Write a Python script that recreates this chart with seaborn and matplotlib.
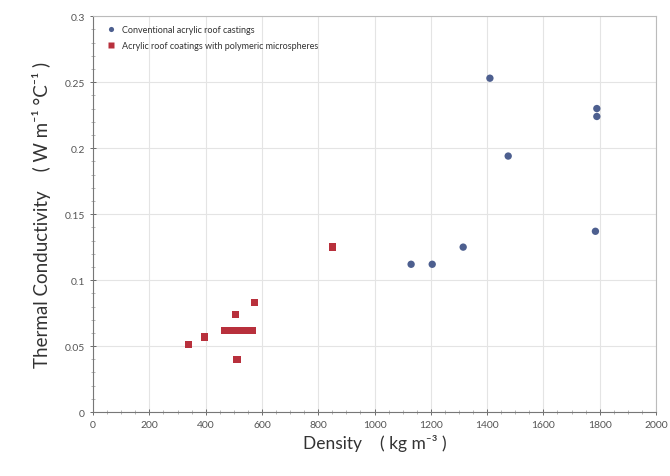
import matplotlib
matplotlib.use("Agg")
import matplotlib.pyplot as plt
from matplotlib.ticker import MultipleLocator
import seaborn as sns
import pandas as pd

conv_density = [1410, 1475, 1790, 1790, 1785, 1315, 1130, 1205]
conv_k = [0.253, 0.194, 0.230, 0.224, 0.137, 0.125, 0.112, 0.112]

micro_density = [850, 340, 396, 506, 573, 511, 467, 492, 516, 541, 566]
micro_k = [0.125, 0.051, 0.057, 0.074, 0.083, 0.040, 0.062, 0.062, 0.062, 0.062, 0.062]

series_names = ["Conventional acrylic roof castings",
                "Acrylic roof coatings with polymeric microspheres"]

df = pd.concat([
    pd.DataFrame({"Density": conv_density, "k": conv_k, "series": series_names[0]}),
    pd.DataFrame({"Density": micro_density, "k": micro_k, "series": series_names[1]}),
])

sns.set_theme(style="white")
plt.rcParams['font.family'] = ['Lato', 'DejaVu Sans']

fig = plt.figure(figsize=(6.7, 4.77), dpi=100)
ax = fig.add_axes([0.139, 0.134, 0.840, 0.830])

sns.scatterplot(data=df, x="Density", y="k", hue="series", style="series",
                palette=["#4d5f8f", "#b8303c"], markers=["o", "s"],
                s=28, edgecolor="none", ax=ax, legend=True)

ax.set_xlim(0, 2000)
ax.set_ylim(0, 0.3)
ax.xaxis.set_major_locator(MultipleLocator(200))
ax.xaxis.set_minor_locator(MultipleLocator(50))
ax.yaxis.set_major_locator(MultipleLocator(0.05))
ax.yaxis.set_minor_locator(MultipleLocator(0.01))
ax.set_xticklabels([f"{int(v)}" for v in ax.get_xticks()])
ax.set_yticks([0, 0.05, 0.1, 0.15, 0.2, 0.25, 0.3])
ax.set_yticklabels(["0", "0.05", "0.1", "0.15", "0.2", "0.25", "0.3"])
ax.grid(True, which="major", color="#e4e4e4", linewidth=0.8)
ax.tick_params(axis="both", which="major", labelsize=7.5, colors="#555555",
               direction="inout", length=5, width=0.6, bottom=True, left=True)
ax.tick_params(axis="both", which="minor", direction="inout", length=3,
               width=0.5, colors="#999999", bottom=True, left=True)
for sp in ax.spines.values():
    sp.set_color("#bbbbbb")
    sp.set_linewidth(0.8)
ax.spines["left"].set_color("#777777")
ax.spines["bottom"].set_color("#777777")

ax.set_xlabel("Density    ( kg m\u207b\u00b3 )", fontsize=12.5, color="#333333", labelpad=3)
ax.set_ylabel("Thermal Conductivity    ( W m\u207b\u00b9 \u00b0C\u207b\u00b9 )", fontsize=13.5,
              color="#333333", labelpad=10)

leg = ax.legend(loc="upper left", frameon=False, fontsize=6.5, markerscale=0.7,
                handletextpad=0.2, borderaxespad=0.6, labelspacing=0.8)
for t in leg.get_texts():
    t.set_color("#333333")

fig.savefig("out.png", dpi=100)
